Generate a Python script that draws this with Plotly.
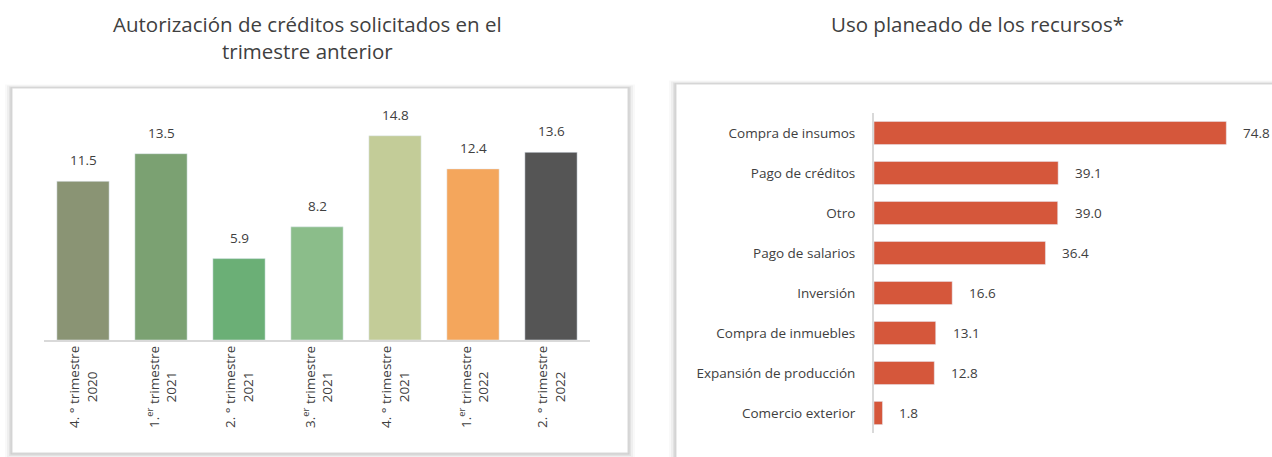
import plotly.graph_objects as go

W, H = 1272, 457

# ---- Data ----
left_title = "Autorización de créditos solicitados en el<br>trimestre anterior"
left_cats = ["4. ° trimestre<br>2020", "1.<sup>er</sup> trimestre<br>2021", "2. ° trimestre<br>2021",
             "3.<sup>er</sup> trimestre<br>2021", "4. ° trimestre<br>2021", "1.<sup>er</sup> trimestre<br>2022",
             "2. ° trimestre<br>2022"]
left_vals = [11.5, 13.5, 5.9, 8.2, 14.8, 12.4, 13.6]
left_colors = ["#8A9474", "#7BA172", "#6BAF76", "#8BBD8A", "#C3CC98", "#F4A65C", "#555555"]

right_title = "Uso planeado de los recursos*"
right_cats = ["Compra de insumos", "Pago de créditos", "Otro", "Pago de salarios", "Inversión",
              "Compra de inmuebles", "Expansión de producción", "Comercio exterior"]
right_vals = [74.8, 39.1, 39.0, 36.4, 16.6, 13.1, 12.8, 1.8]
right_color = "#D5573B"

TXT = "#404040"
FONT = "Open Sans"


def px(x):
    return x / W


def py(y):
    return 1 - y / H


fig = go.Figure()

# shadow boxes
shapes = []


def shadow_box(x0, y0, x1, y1):
    for i, op in [(7, 0.05), (5, 0.08), (3, 0.12), (1.5, 0.18)]:
        shapes.append(dict(type="rect", xref="paper", yref="paper",
                           x0=px(x0 - i), x1=px(x1 + i), y0=py(y1 + i), y1=py(y0 - i / 2),
                           fillcolor="#808080", opacity=op, line=dict(width=0), layer="below"))
    shapes.append(dict(type="rect", xref="paper", yref="paper",
                       x0=px(x0), x1=px(x1), y0=py(y1), y1=py(y0),
                       fillcolor="white", line=dict(color="#D9D9D9", width=1), layer="below"))


shadow_box(12, 88, 628, 453)
shadow_box(676, 84, 1290, 470)

# ---- Left chart ----
fig.add_trace(go.Bar(x=list(range(len(left_cats))), y=left_vals, marker_color=left_colors,
                     width=0.67, xaxis="x", yaxis="y", showlegend=False, hoverinfo="skip"))

annotations = []
for i, v in enumerate(left_vals):
    annotations.append(dict(x=i, y=v, xref="x", yref="y", text=f"{v:.1f}", showarrow=False,
                            yanchor="bottom", yshift=10, font=dict(size=13.5, color=TXT, family=FONT)))
    annotations.append(dict(x=i, y=py(344), xref="x", yref="paper", text=left_cats[i], showarrow=False,
                            yanchor="top", textangle=-90, align="center",
                            font=dict(size=13.5, color=TXT, family=FONT)))

annotations.append(dict(x=px(307), y=py(37), xref="paper", yref="paper", text=left_title,
                        showarrow=False, align="center", font=dict(size=20.5, color=TXT, family=FONT),
                        xanchor="center", yanchor="middle"))
annotations.append(dict(x=px(977), y=py(24), xref="paper", yref="paper", text=right_title,
                        showarrow=False, font=dict(size=20.5, color=TXT, family=FONT),
                        xanchor="center", yanchor="middle"))

# ---- Right chart ----
fig.add_trace(go.Bar(y=right_cats, x=right_vals, orientation="h", marker_color=right_color,
                     width=0.58, xaxis="x2", yaxis="y2", showlegend=False, hoverinfo="skip"))
for c, v in zip(right_cats, right_vals):
    annotations.append(dict(x=v, y=c, xref="x2", yref="y2", text=f"{v:.1f}", showarrow=False,
                            xanchor="left", xshift=15, font=dict(size=13.5, color=TXT, family=FONT)))

left_top, left_base = 100, 340
right_x0, right_x1 = 874, 1272
right_top, right_bot = 113, 433

fig.update_layout(
    width=W, height=H, margin=dict(l=0, r=0, t=0, b=0),
    paper_bgcolor="white", plot_bgcolor="rgba(0,0,0,0)",
    font=dict(family=FONT, color=TXT),
    shapes=shapes, annotations=annotations, bargap=0.3,
    xaxis=dict(domain=[px(44), px(590)], range=[-0.5, 6.5], showticklabels=False, showgrid=False,
               zeroline=False, showline=True, linecolor="#D9D9D9", linewidth=2, anchor="y", ticks=""),
    yaxis=dict(domain=[py(left_base), py(left_top)], range=[0, (left_base - left_top) / 13.8],
               visible=False, anchor="x"),
    xaxis2=dict(domain=[px(right_x0), px(right_x1)], range=[0, (right_x1 - right_x0) / 4.71],
                visible=False, anchor="y2"),
    yaxis2=dict(domain=[py(right_bot), py(right_top)], autorange="reversed", showgrid=False,
                zeroline=False, showline=True, linecolor="#D9D9D9", linewidth=2, anchor="x2",
                ticks="", ticklabelstandoff=14, tickfont=dict(size=13.5, color=TXT, family=FONT)),
)

fig.write_html("out.html", config={"displayModeBar": False, "staticPlot": True},
               post_script="document.body.style.margin='0';document.body.style.overflow='hidden';")
